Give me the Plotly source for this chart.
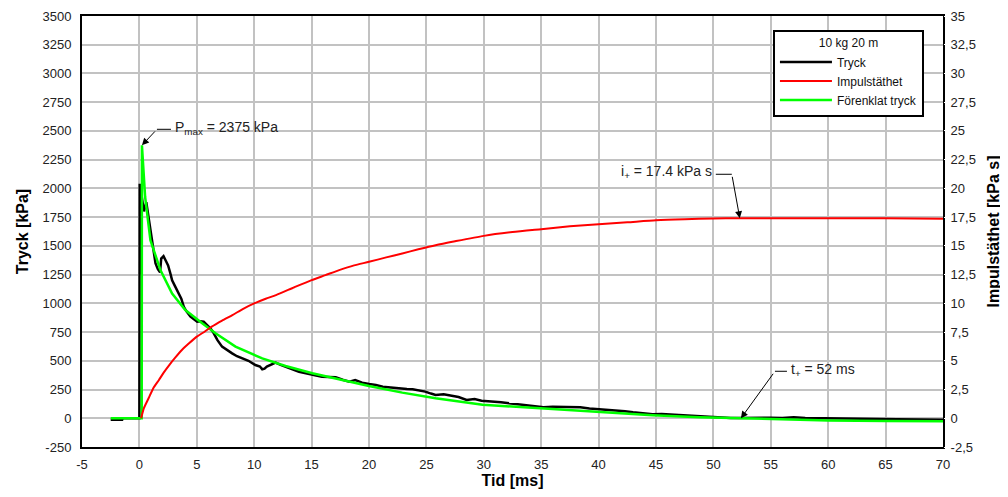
import plotly.graph_objects as go

# ---- data ----
tryck_t = [-2.5, -1.5, -1.45, -0.05, 0.0, 0.03, 0.1, 0.2, 0.4, 0.6,
           0.8, 1.0, 1.2, 1.4, 1.6, 1.8, 1.9, 2.1, 2.3, 2.5,
           2.7, 2.85, 3.1, 3.43, 3.65, 3.87, 4.1, 4.45, 4.75, 5.03,
           5.3, 5.6, 5.9, 6.2, 6.48, 6.8, 7.2, 7.6, 8.08, 8.5,
           8.95, 9.5, 10.1, 10.5, 10.7, 10.9, 11.1, 11.5, 11.86, 12.3,
           12.73, 13.3, 13.9, 14.5, 15.06, 15.5, 15.9, 16.5, 17.1, 17.7,
           18.3, 18.8, 19.4, 20.0, 20.6, 21.2, 21.8, 22.3, 22.8, 23.3,
           23.8, 24.4, 24.9, 25.4, 25.8, 26.5, 27.1, 27.8, 28.5, 29.2,
           29.8, 30.8, 31.5, 32.2, 32.9, 33.6, 34.3, 35.2, 36.0, 36.8,
           37.6, 38.4, 39.2, 40.1, 40.8, 41.6, 42.3, 43.0, 43.8, 44.7,
           45.5, 46.3, 47.4, 48.3, 49.2, 50.0, 50.8, 51.5, 52.2, 53.0,
           54.0, 55.0, 56.0, 57.0, 58.0, 59.0, 60.0, 61.5, 63.0, 64.5,
           66.0, 67.5, 69.0, 70.0]
tryck_p = [-12, -12, 0, 0, 0, 2040, 1250, 1930, 1800, 1880,
           1750, 1620, 1480, 1350, 1300, 1270, 1390, 1410, 1370, 1330,
           1260, 1200, 1150, 1086, 1040, 970, 930, 884, 860, 840,
           845, 840, 811, 780, 739, 680, 623, 595, 565, 540,
           521, 500, 463, 450, 426, 432, 449, 470, 484, 465,
           449, 428, 405, 392, 377, 370, 362, 360, 356, 335,
           319, 333, 310, 298, 290, 275, 268, 261, 258, 255,
           252, 240, 232, 215, 203, 208, 200, 185, 160, 168,
           152, 148, 140, 130, 122, 115, 108, 96, 100, 98,
           94, 96, 85, 78, 74, 70, 62, 52, 45, 35,
           38, 33, 26, 20, 14, 9, 6, 3, 2, 4,
           6, 5, 3, 8, 2, 0, -3, -2, -5, -6,
           -8, -9, -10, -12]

imp_t = [0.15, 0.4, 0.8, 1.2, 1.7, 2.1, 2.6, 3.1, 3.7, 4.3, 5.0, 5.7, 6.3, 7.2, 8.1, 9.0,
         10.0, 11.0, 11.9, 13.5, 15.0, 16.2, 17.4, 18.7, 20.0, 21.5, 22.9, 24.3, 25.8,
         27.5, 30.0, 32.5, 35.0, 37.5, 40.0, 42.5, 45.0, 47.5, 50.0, 52.0, 60.0, 65.0, 70.0]
imp_i = [0.0, 0.9, 1.74, 2.6, 3.33, 3.95, 4.63, 5.25, 5.94, 6.5, 7.1, 7.55, 7.97, 8.5, 8.98, 9.5,
         9.99, 10.4, 10.72, 11.4, 12.02, 12.45, 12.89, 13.3, 13.61, 14.0, 14.34, 14.7, 15.06,
         15.4, 15.87, 16.2, 16.45, 16.7, 16.88, 17.05, 17.23, 17.32, 17.38, 17.4, 17.4, 17.4, 17.35]

forenk_t = [-2.5, 0.2, 0.22, 0.5, 0.96, 1.4, 1.83, 2.85, 4.0, 5.47, 6.63, 8.37, 10.7, 12.73,
            15.06, 17.67, 20.0, 22.9, 25.8, 29.9, 34.9, 40.1, 44.7, 48.8, 52.0, 55.0, 57.5,
            60.0, 65.0, 70.0]
forenk_p = [0, 0, 2375, 1925, 1550, 1410, 1289, 1086, 942, 826, 739, 623, 521, 455,
            391, 333, 281, 223, 174, 118, 85, 52, 26, 9, 0, -10, -17,
            -19, -23, -27]

x_ticks = list(range(-5, 75, 5))
y_ticks = list(range(-250, 3750, 250))
y2_ticks = [-2.5 + 2.5 * k for k in range(16)]
y2_labels = ["-2,5", "0", "2,5", "5", "7,5", "10", "12,5", "15", "17,5", "20",
             "22,5", "25", "27,5", "30", "32,5", "35"]

p_max_t, p_max = 0.22, 2375
i_plus_t, i_plus = 52.3, 17.4
t_plus, t_plus_p = 52.4, 0

FONT = "Liberation Sans, Arial, sans-serif"

fig = go.Figure()
fig.add_trace(go.Scatter(x=tryck_t, y=tryck_p, mode="lines", name="Tryck",
                         line=dict(color="black", width=2.5)))
fig.add_trace(go.Scatter(x=imp_t, y=imp_i, mode="lines", name="Impulstäthet", yaxis="y2",
                         line=dict(color="#ff0000", width=2, shape="spline", smoothing=0.6)))
fig.add_trace(go.Scatter(x=forenk_t, y=forenk_p, mode="lines", name="Förenklat tryck",
                         line=dict(color="#00ff00", width=2.5)))

grid = "#c2c2c2"
# the page body has an 8 px default margin, so the figure is sized 8 px smaller
fig.update_layout(
    width=1000, height=489,
    margin=dict(l=74, r=65, t=8, b=50, autoexpand=False),
    paper_bgcolor="white", plot_bgcolor="white",
    font=dict(family=FONT, size=13, color="#222"),
    showlegend=True,
    legend=dict(x=0.8025, y=0.968, xanchor="left", yanchor="top",
                bgcolor="white", bordercolor="black", borderwidth=2,
                font=dict(size=12, color="#111"),
                title=dict(text="10 kg 20 m", side="top center", font=dict(size=12)),
                tracegroupgap=0, itemwidth=52),
    xaxis=dict(range=[-5, 70], tickvals=x_ticks, ticktext=[str(v) for v in x_ticks],
               showgrid=True, gridcolor=grid, gridwidth=2, zeroline=False,
               showline=True, linecolor="black", linewidth=2, mirror=True, automargin=False,
               ticks="outside", ticklen=4, tickcolor="white",
               title=dict(text="<b>Tid [ms]</b>", font=dict(size=16, color="black"), standoff=2)),
    yaxis=dict(range=[-250, 3500], tickvals=y_ticks, ticktext=[str(v) for v in y_ticks],
               showgrid=True, gridcolor=grid, gridwidth=2, zeroline=False,
               showline=True, linecolor="black", linewidth=2, mirror=True, automargin=False,
               ticks="outside", ticklen=6, tickcolor="white",
               title=dict(text="<b>Tryck [kPa]</b>", font=dict(size=16, color="black"), standoff=10)),
    yaxis2=dict(range=[-2.5, 35], overlaying="y", side="right", automargin=False,
                tickvals=y2_ticks, ticktext=y2_labels, showgrid=False, zeroline=False,
                showline=False, ticks="outside", ticklen=4, tickcolor="white",
                title=dict(text="<b>Impulstäthet [kPa s]</b>", font=dict(size=16, color="black"),
                           standoff=12)),
)

ann_font = dict(family=FONT, size=14, color="#222")
tiny = dict(size=2, color="rgba(0,0,0,0)")


def leader(xv, yv, yref, bend_dx, bend_dy, seg_dx):
    # diagonal arrow from bend point down to the data point
    fig.add_annotation(x=xv, y=yv, yref=yref, text="\u00a0", font=tiny, showarrow=True,
                       arrowhead=2, arrowsize=1.4, arrowwidth=1, arrowcolor="black",
                       ax=bend_dx, ay=-bend_dy, standoff=0, startstandoff=0)
    # short horizontal segment leading to the text
    fig.add_shape(type="line", xref="x", yref=yref, xsizemode="pixel", ysizemode="pixel",
                  xanchor=xv, yanchor=yv, x0=bend_dx, x1=bend_dx + seg_dx,
                  y0=bend_dy, y1=bend_dy, line=dict(color="black", width=1))


leader(p_max_t, p_max, "y", 15, 16, 14)
fig.add_annotation(x=p_max_t, y=p_max, text="P<sub>max</sub> = 2375 kPa", showarrow=False,
                   xanchor="left", yanchor="middle", xshift=31, yshift=17, font=ann_font)

leader(i_plus_t, i_plus, "y2", -8, 44, -16)
fig.add_annotation(x=i_plus_t, y=i_plus, yref="y2", text="i<sub>+</sub> = 17.4 kPa s",
                   showarrow=False, xanchor="right", yanchor="middle", xshift=-26, yshift=46,
                   font=ann_font)

leader(t_plus, t_plus_p, "y", 34, 47, 12)
fig.add_annotation(x=t_plus, y=t_plus_p, text="t<sub>+</sub> = 52 ms", showarrow=False,
                   xanchor="left", yanchor="middle", xshift=48, yshift=48, font=ann_font)

fig.write_html("out.html")
